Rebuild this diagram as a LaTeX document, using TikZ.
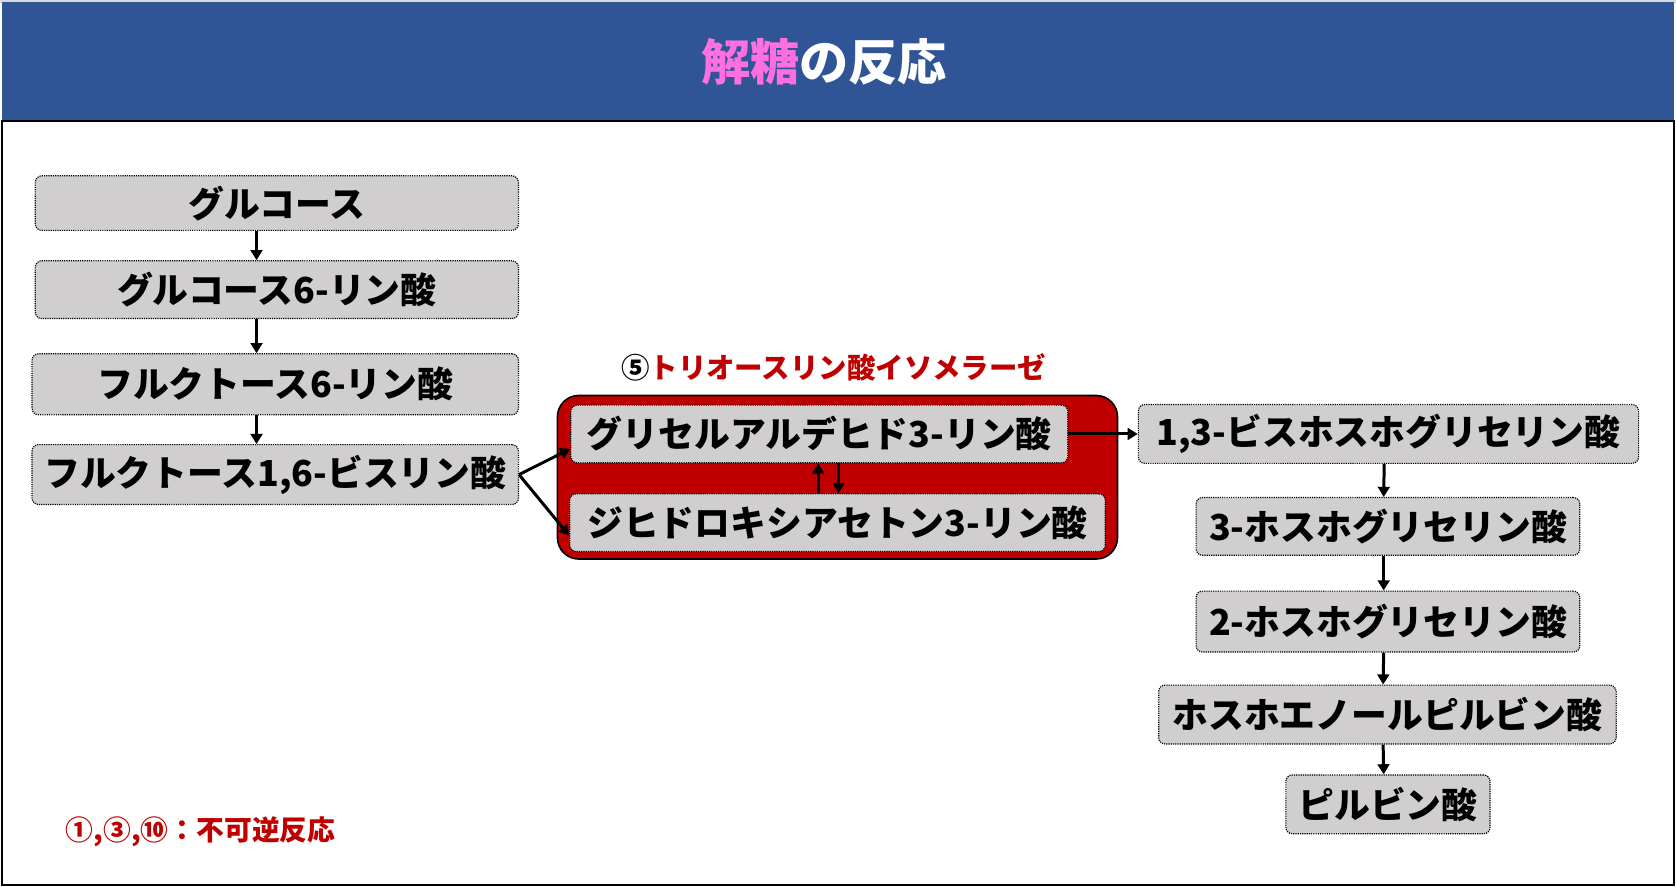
\documentclass[tikz,border=0pt]{standalone}
\usepackage{fontspec}
\setmainfont{Noto Sans CJK JP}
\usetikzlibrary{arrows.meta}
\usetikzlibrary{calc}
\definecolor{hdblue}{HTML}{2F5597}
\definecolor{ttlpink}{HTML}{FF6FDF}
\definecolor{enzred}{HTML}{C00000}
\definecolor{boxgray}{HTML}{D0CECE}
\tikzset{
  met/.style={draw, densely dotted, line width=1.1pt, fill=boxgray, rounded corners=6pt,
    inner sep=0pt, font=\fontsize{33.5}{36}\selectfont\bfseries},
  flow/.style={-{Triangle[length=9.5pt,width=11pt]}, line width=2.8pt},
}
\begin{document}
\begin{tikzpicture}[x=1pt,y=-1pt]
        \useasboundingbox (0,0) rectangle (1568,829);
        \fill[black!15] (0,0) rectangle (1568,3);
        \fill[hdblue] (2,2) rectangle (1566,113);
        \draw[line width=2pt] (2,113) rectangle (1566,828);
        \node[font=\fontsize{46}{50}\selectfont\bfseries, text=white] (ttl) at (771,58)
          {\textcolor{ttlpink}{解糖}の反応};

        % left column
        \node[met, minimum width=452pt, minimum height=51pt] (glc) at (259,190) {グルコース};
        \node[met, minimum width=452pt, minimum height=54pt] (g6p) at (259,271) {グルコース6-リン酸};
        \node[met, minimum width=455pt, minimum height=57pt] (f6p) at (257.5,359.5) {フルクトース6-リン酸};
        \node[met, minimum width=455pt, minimum height=56pt] (fbp) at (257.5,444) {フルクトース1,6-ビスリン酸};
        \draw[flow] ([xshift=-19pt]glc.south) -- ([xshift=-19pt]g6p.north);
        \draw[flow] ([xshift=-19pt]g6p.south) -- ([xshift=-17.5pt]f6p.north);
        \draw[flow] ([xshift=-17.5pt]f6p.south) -- ([xshift=-17.5pt]fbp.north);

        % triose phosphate isomerase
        \node[draw, line width=1.5pt, fill=enzred, rounded corners=20pt,
          minimum width=524pt, minimum height=153pt] (tim) at (783.5,446.5) {};
        \node[font=\fontsize{26.6}{28}\selectfont\bfseries, text=enzred] (tpi) at (780,344)
          {\textcolor{black}{⑤}トリオースリン酸イソメラーゼ};
        \node[met, minimum width=465pt, minimum height=54pt] (ga) at (766.5,406) {グリセルアルデヒド3-リン酸};
        \node[met, minimum width=501pt, minimum height=54pt] (dh) at (783.5,489) {ジヒドロキシアセトン3-リン酸};
        \coordinate (up) at ([xshift=-18pt]dh.north);
        \coordinate (dn) at ([xshift=1pt]dh.north);
        \draw[flow] (up) -- (up |- ga.south);
        \draw[flow] (dn |- ga.south) -- (dn);
        \draw[flow] (fbp.east) -- ([yshift=-14pt]ga.west);
        \draw[flow] (fbp.east) -- ([yshift=-12pt]dh.west);

        % right column
        \node[met, minimum width=468pt, minimum height=55pt] (bpg) at (1299,406) {1,3-ビスホスホグリセリン酸};
        \node[met, minimum width=359pt, minimum height=54pt] (pg3) at (1298.5,492.5) {3-ホスホグリセリン酸};
        \node[met, minimum width=359pt, minimum height=57pt] (pg2) at (1298.5,581.5) {2-ホスホグリセリン酸};
        \node[met, minimum width=428pt, minimum height=55pt] (pep) at (1298,668.5) {ホスホエノールピルビン酸};
        \node[met, minimum width=191pt, minimum height=55pt] (pyr) at (1298.5,752.5) {ピルビン酸};
        \draw[flow] (ga.east) -- (bpg.west);
        \draw[flow] ([xshift=-4pt]bpg.south) -- ([xshift=-4pt]pg3.north);
        \draw[flow] ([xshift=-4pt]pg3.south) -- ([xshift=-4pt]pg2.north);
        \draw[flow] ([xshift=-4pt]pg2.south) -- ([xshift=-4pt]pep.north);
        \draw[flow] ([xshift=-4pt]pep.south) -- ([xshift=-4pt]pyr.north);

        \node[anchor=west, font=\fontsize{26}{28}\selectfont\bfseries, text=enzred] (irr) at (58,778)
          {①,③,⑩：不可逆反応};
      \end{tikzpicture}
\end{document}
